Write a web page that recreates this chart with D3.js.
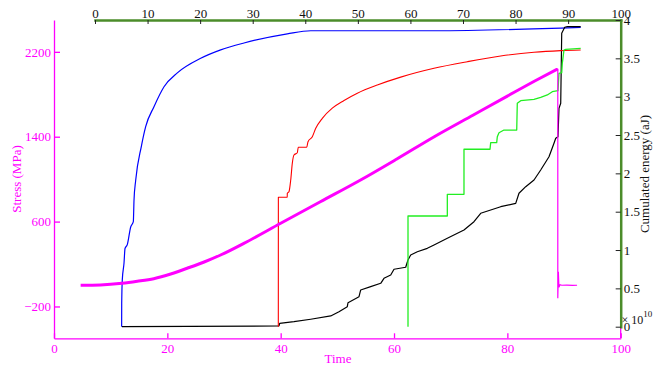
<!DOCTYPE html>
<html>
<head>
<meta charset="utf-8">
<script src="https://cdn.jsdelivr.net/npm/d3@7"></script>
<style>
  html, body { margin: 0; padding: 0; background: #fff; }
  svg { display: block; }
  svg text { font-family: "Liberation Serif", "Times New Roman", serif; }
</style>
</head>
<body>
<svg id="chart" width="666" height="366"></svg>
<script>
// ---- Stress (MPa) against time: bottom / left axes ----
const stressTime  = [4.7, 8.2, 12, 14.7, 17.6, 20.6, 23.5, 26.5, 29.4, 33.5, 40, 47, 54.1, 60.5, 67.1, 74, 80, 85, 88.9];
const stressValue = [0, 3, 18, 37, 62, 106, 160, 219, 285, 395, 584, 787, 992, 1190, 1400, 1605, 1783, 1930, 2040];
// after failure
const postTime  = [88.9, 88.9, 89.0, 89.1, 89.3, 89.6, 90.5, 91.5, 92.3];
const postValue = [2040, -123, 128, -20, 5, 0, 2, -2, 0];

// ---- Cumulated energy (x 10^10 aJ): top / right axes ----
const blueTime   = [5.07, 5.08, 5.19, 5.52, 5.71, 6.14, 6.79, 7.29, 7.42, 7.74, 8.81, 9.64, 11.22, 13.13, 15.66, 20.11, 23.91, 28.34, 36.58, 41.03, 64.49, 92.39];
const blueEnergy = [0, 0.3, 0.61, 0.83, 1.02, 1.07, 1.30, 1.37, 1.65, 1.91, 2.35, 2.61, 2.87, 3.13, 3.31, 3.50, 3.61, 3.70, 3.82, 3.86, 3.86, 3.905];

const blackTime   = [5.14, 35.0, 35.13, 37.85, 41.03, 44.84, 46.41, 47.99, 48.13, 50.22, 50.54, 52.44, 54.35, 54.97, 56.25, 56.88, 59.10, 59.54, 60.05, 61.31, 63.21, 64.49, 67.02, 70.19, 72.09, 73.37, 77.17, 80.03, 80.65, 81.93, 83.51, 84.78, 86.36, 87.31, 87.64, 88.07, 88.26, 88.59, 88.78, 89.35, 89.84, 92.39];
const blackEnergy = [0, 0.01, 0.044, 0.065, 0.097, 0.14, 0.196, 0.261, 0.313, 0.391, 0.479, 0.522, 0.566, 0.631, 0.674, 0.749, 0.775, 0.87, 0.935, 0.978, 1.022, 1.066, 1.153, 1.261, 1.369, 1.479, 1.565, 1.609, 1.74, 1.826, 1.913, 2.044, 2.217, 2.392, 2.457, 2.478, 2.848, 2.914, 3.827, 3.905, 3.913, 3.913];

const redTime   = [34.87, 34.88, 36.57, 36.58, 36.90, 37.23, 37.53, 37.85, 38.48, 38.67, 40.27, 40.52, 41.34, 41.99, 43.24, 45.14, 47.37, 49.90, 53.70, 58.15, 64.49, 70.82, 77.17, 83.51, 88.59, 92.39];
const redEnergy = [0, 1.688, 1.688, 1.74, 1.761, 1.913, 2.131, 2.239, 2.269, 2.34, 2.34, 2.413, 2.478, 2.588, 2.718, 2.850, 2.950, 3.045, 3.152, 3.255, 3.37, 3.456, 3.53, 3.579, 3.60, 3.609];

const greenTime   = [59.54, 59.54, 67.02, 67.02, 70.19, 70.19, 75.14, 75.27, 76.41, 76.53, 76.85, 77.80, 80.22, 80.33, 80.98, 83.51, 84.78, 86.04, 86.99, 88.07, 88.26, 88.78, 88.89, 89.21, 89.54, 92.39];
const greenEnergy = [0, 1.444, 1.444, 1.727, 1.727, 2.314, 2.314, 2.40, 2.40, 2.478, 2.53, 2.565, 2.565, 2.914, 2.948, 2.966, 2.992, 3.022, 3.065, 3.078, 3.305, 3.313, 3.435, 3.609, 3.618, 3.631];

// ---- Ticks ----
const timeTicks   = [0, 20, 40, 60, 80, 100];
const stressTicks = [-200, 600, 1400, 2200];
const topTicks    = [0, 10, 20, 30, 40, 50, 60, 70, 80, 90, 100];
const energyTicks = [0, 0.5, 1, 1.5, 2, 2.5, 3, 3.5, 4];

const MAG = "#ff00ff";
const AXG = "#4b8c2a";

const svg = d3.select("#chart");

const xB = d3.scaleLinear([0, 100], [54, 620.7]);
const yL = d3.scaleLinear([-500, 2500], [338.3, 20]);
const xT = d3.scaleLinear([0, 100], [95, 620.7]);
const yR = d3.scaleLinear([0, 4], [326.7, 20]);

// right edge of the stress frame
svg.append("line")
  .attr("x1", xB(100)).attr("x2", xB(100))
  .attr("y1", yL(2500)).attr("y2", yL(-500))
  .attr("stroke", MAG).attr("stroke-width", 1.3);

// left (stress) axis
const gL = svg.append("g")
  .attr("transform", `translate(${xB(0)},0)`)
  .call(d3.axisLeft(yL).tickValues(stressTicks).tickSizeInner(-6).tickSizeOuter(0)
          .tickPadding(3).tickFormat(d3.format("d")));
gL.attr("font-size", 13);
gL.selectAll("path, line").attr("stroke", MAG).attr("stroke-width", 1.3);
gL.selectAll("text").attr("fill", MAG);

// bottom (time) axis
const gB = svg.append("g")
  .attr("transform", `translate(0,${yL(-500)})`)
  .call(d3.axisBottom(xB).tickValues(timeTicks).tickSizeInner(-5).tickSizeOuter(0)
          .tickPadding(5).tickFormat(d3.format("d")));
gB.attr("font-size", 13);
gB.selectAll("path, line").attr("stroke", MAG).attr("stroke-width", 1.3);
gB.selectAll("text").attr("fill", MAG);

// energy curves
const energySeries = [
  { t: blueTime,  e: blueEnergy,  color: "#0000ff", w: 1.2, curve: d3.curveMonotoneX },
  { t: blackTime, e: blackEnergy, color: "#000000", w: 1.2, curve: d3.curveLinear },
  { t: redTime,   e: redEnergy,   color: "#ff0000", w: 1.1, curve: d3.curveMonotoneX },
  { t: greenTime, e: greenEnergy, color: "#22ee22", w: 1.3, curve: d3.curveLinear }
];
energySeries.forEach(s => {
  const line = d3.line().x(d => xT(d[0])).y(d => yR(d[1])).curve(s.curve);
  svg.append("path")
    .datum(d3.zip(s.t, s.e))
    .attr("d", line)
    .attr("fill", "none")
    .attr("stroke", s.color)
    .attr("stroke-width", s.w)
    .attr("stroke-linejoin", "round");
});

// stress curve
svg.append("path")
  .datum(d3.zip(stressTime, stressValue))
  .attr("d", d3.line().x(d => xB(d[0])).y(d => yL(d[1])).curve(d3.curveMonotoneX))
  .attr("fill", "none")
  .attr("stroke", MAG)
  .attr("stroke-width", 3);
svg.append("path")
  .datum(d3.zip(postTime, postValue))
  .attr("d", d3.line().x(d => xB(d[0])).y(d => yL(d[1])))
  .attr("fill", "none")
  .attr("stroke", MAG)
  .attr("stroke-width", 1.2);

// top (time) axis of the energy frame
const gT = svg.append("g")
  .attr("transform", `translate(0,${yR(4)})`)
  .call(d3.axisTop(xT).tickValues(topTicks).tickSizeInner(-4).tickSizeOuter(0)
          .tickPadding(2).tickFormat(d3.format("d")));
gT.attr("font-size", 13);
gT.selectAll("line").attr("stroke", "#222").attr("stroke-width", 1);
gT.select("path").attr("stroke", AXG).attr("stroke-width", 2.5).attr("stroke-linecap", "square");
gT.selectAll("text").attr("fill", "#111");

// right (energy) axis
const gR = svg.append("g")
  .attr("transform", `translate(${xT(100)},0)`)
  .call(d3.axisRight(yR).tickValues(energyTicks).tickSizeInner(-5).tickSizeOuter(0)
          .tickPadding(3).tickFormat(d3.format("~g")));
gR.attr("font-size", 13);
gR.selectAll("line").attr("stroke", "#222").attr("stroke-width", 1);
gR.select("path").attr("stroke", AXG).attr("stroke-width", 2.5).attr("stroke-linecap", "square");
gR.selectAll("text").attr("fill", "#111");

// axis titles
svg.append("text")
  .attr("transform", "translate(20.5,179) rotate(-90)")
  .attr("text-anchor", "middle")
  .attr("font-size", 13)
  .attr("fill", MAG)
  .text("Stress (MPa)");

svg.append("text")
  .attr("x", 338).attr("y", 362.5)
  .attr("text-anchor", "middle")
  .attr("font-size", 13)
  .attr("fill", MAG)
  .text("Time");

svg.append("text")
  .attr("transform", "translate(649,174) rotate(-90)")
  .attr("text-anchor", "middle")
  .attr("font-size", 13)
  .attr("fill", "#111")
  .text("Cumulated energy (aJ)");

// exponent of the energy axis
const expo = svg.append("text")
  .attr("x", 621.5).attr("y", 324)
  .attr("font-size", 12)
  .attr("fill", "#111");
expo.append("tspan").text("× 10");
expo.append("tspan").attr("dy", -7).attr("font-size", 9).text("10");
</script>
</body>
</html>
